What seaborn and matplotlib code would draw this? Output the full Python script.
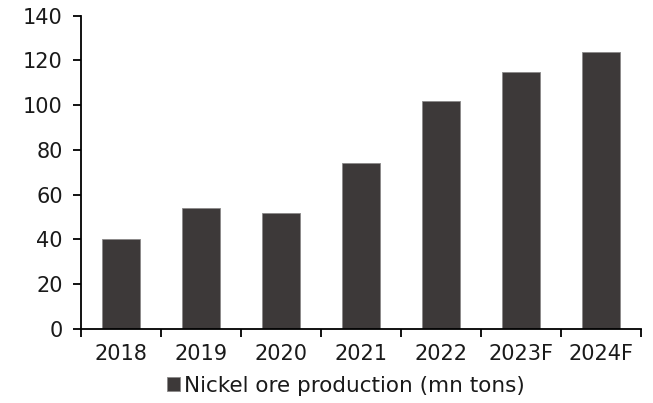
import matplotlib
matplotlib.use("Agg")
import matplotlib.pyplot as plt
import seaborn as sns
import pandas as pd
from matplotlib.ticker import FixedLocator

# Annual nickel ore output, with forecasts for 2023 and 2024
years = ["2018", "2019", "2020", "2021", "2022", "2023F", "2024F"]
production = [40, 54, 52, 74, 102, 115, 124]
series_label = "Nickel ore production (mn tons)"
y_ticks = [0, 20, 40, 60, 80, 100, 120, 140]

sns.set_theme(style="white")
plt.rcParams["font.family"] = ["DejaVu Sans"]

df = pd.DataFrame({"year": years, "value": production})

fig = plt.figure(figsize=(6.53, 4.03), dpi=100)
ax = fig.add_axes([0.124, 0.1836, 0.858, 0.7774])

bar_color = "#3d3939"
sns.barplot(data=df, x="year", y="value", color=bar_color, width=0.47,
            edgecolor="#8a8888", linewidth=0.6, saturation=1,
            label=series_label, ax=ax)

ax.set_xlim(-0.5, len(years) - 0.5)
ax.set_ylim(0, 140)
ax.set_yticks(y_ticks)
ax.set_xlabel("")
ax.set_ylabel("")

for side in ("top", "right"):
    ax.spines[side].set_visible(False)
for side in ("left", "bottom"):
    ax.spines[side].set_color("black")
    ax.spines[side].set_linewidth(1.3)

text_color = "#1a1a1a"
# category boundaries carry the tick marks; labels sit at bar centres
ax.xaxis.set_minor_locator(FixedLocator([i - 0.5 for i in range(len(years) + 1)]))
ax.tick_params(axis="x", which="major", length=0, pad=11, labelsize=15,
               labelcolor=text_color)
ax.tick_params(axis="x", which="minor", direction="out", length=6, width=1.3,
               color="black", bottom=True)
ax.tick_params(axis="y", which="major", direction="out", length=6, width=1.3,
               color="black", left=True, pad=7, labelsize=15, labelcolor=text_color)

if ax.legend_:
    ax.legend_.remove()
handles, labels = ax.get_legend_handles_labels()
leg = fig.legend(handles[:1], labels[:1], loc="center", bbox_to_anchor=(0.53, 0.043),
                 frameon=False, fontsize=15.5, handlelength=0.6, handleheight=0.6,
                 handletextpad=0.2, borderaxespad=0)
for t in leg.get_texts():
    t.set_color(text_color)

fig.savefig("out.png", dpi=100)
